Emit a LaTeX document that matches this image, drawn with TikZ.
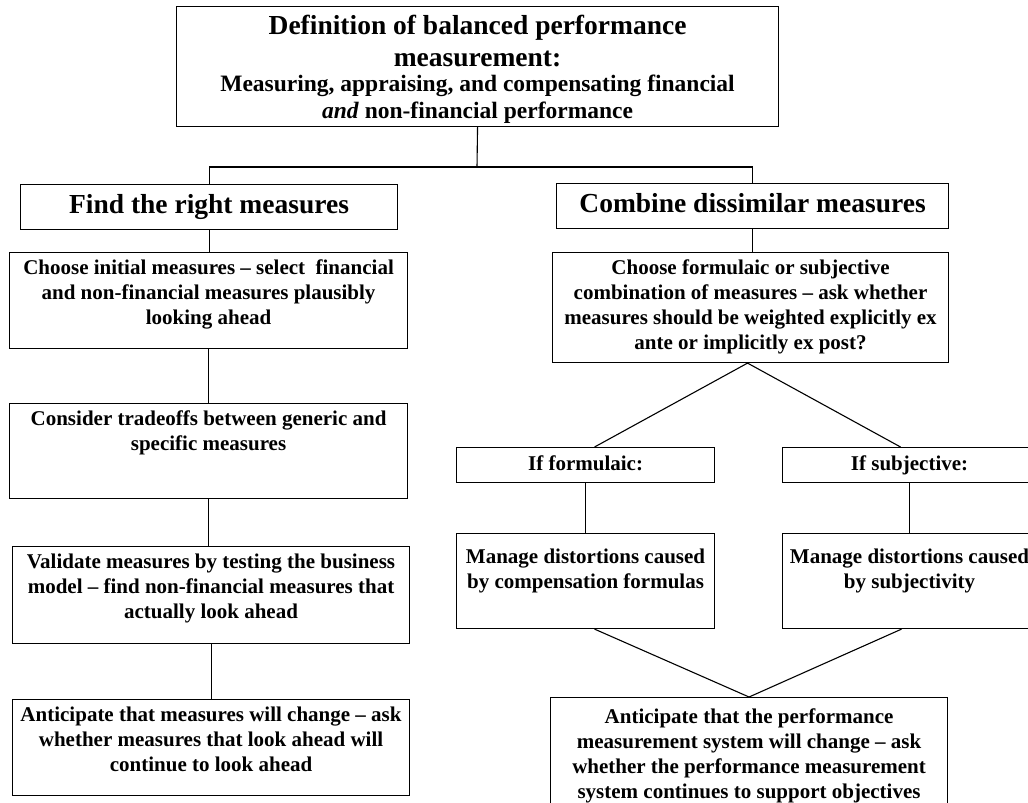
\documentclass[tikz,border=0pt]{standalone}
\usepackage{fontspec}
\setmainfont{Liberation Serif}
\begin{document}
\begin{tikzpicture}[x=1pt,y=-1pt,
  box/.style={draw, line width=1.1pt, inner sep=0pt, anchor=north west},
  body/.style={font=\fontsize{21}{25}\selectfont\bfseries, align=center, inner sep=0pt, anchor=north},
  head/.style={font=\fontsize{27.5}{32}\selectfont\bfseries, align=center},
  banner/.style={head, text height=19, text depth=6},
  subhead/.style={font=\fontsize{23.5}{27}\selectfont\bfseries, align=center, inner sep=0pt, anchor=north},
  single/.style={font=\fontsize{21}{25}\selectfont\bfseries, text height=14.5, text depth=4.5},
  link/.style={line width=1.1pt, line join=miter}]
\useasboundingbox (0,0) rectangle (1028,803);
\clip (0,0) rectangle (1028,803);

% definition box
\node[box, minimum width=602, minimum height=120] (def) at (176,6) {};
\node[head, inner sep=0pt, anchor=north] (deft) at ([yshift=-8.5]def.north)
  {Definition of balanced performance\\measurement:};
\node[subhead] (defs) at ([yshift=-69]def.north)
  {Measuring, appraising, and compensating financial\\\textit{and} non-financial performance};

% two main branches
\node[box, banner, minimum width=377, minimum height=45] (find) at (20,184) {Find the right measures};
\node[box, banner, minimum width=392, minimum height=45] (comb) at (556,183) {Combine dissimilar measures};

% left column
\node[box, minimum width=398, minimum height=96] (ci) at (9,252) {};
\node[body] (cit) at ([yshift=-7.5]ci.north)
  {Choose initial measures -- select~ financial\\and non-financial measures plausibly\\looking ahead};
\node[box, minimum width=398, minimum height=95] (cons) at (9,403) {};
\node[body] (const) at ([yshift=-7.5]cons.north)
  {Consider tradeoffs between generic and\\specific measures};
\node[box, minimum width=397, minimum height=97] (val) at (12,546) {};
\node[body] (valt) at ([yshift=-7.5]val.north)
  {Validate measures by testing the business\\model -- find non-financial measures that\\actually look ahead};
\node[box, minimum width=397, minimum height=96] (antl) at (12,699) {};
\node[body] (antlt) at ([yshift=-7.5]antl.north)
  {Anticipate that measures will change -- ask\\whether measures that look ahead will\\continue to look ahead};

% right column
\node[box, minimum width=396, minimum height=110] (cf) at (552,252) {};
\node[body] (cft) at ([yshift=-7.5]cf.north)
  {Choose formulaic or subjective\\combination of measures -- ask whether\\measures should be weighted explicitly ex\\ante or implicitly ex post?};
\node[box, single, minimum width=258, minimum height=35] (iff) at (456,447) {If formulaic:};
\node[box, single, minimum width=254, minimum height=35] (ifs) at (782,447) {If subjective:};
\node[box, minimum width=258, minimum height=95] (mf) at (456,533) {};
\node[body] (mft) at ([yshift=-15.5]mf.north)
  {Manage distortions caused\\by compensation formulas};
\node[box, minimum width=254, minimum height=95] (ms) at (782,533) {};
\node[body] (mst) at ([yshift=-15.5]ms.north)
  {Manage distortions caused\\by subjectivity};
\node[box, minimum width=397, minimum height=120] (antr) at (550,697) {};
\node[body] (antrt) at ([yshift=-11.5]antr.north)
  {Anticipate that the performance\\measurement system will change -- ask\\whether the performance measurement\\system continues to support objectives};

% connectors
\coordinate (fork) at (477,167);
\draw[link] (find.north) |- (fork) -| (comb.north);
\draw[link] (def.south) -- (fork);
\draw[link] (find.south) -- (find.south |- ci.north);
\draw[link] (ci.south) -- (ci.south |- cons.north);
\draw[link] (cons.south) -- (cons.south |- val.north);
\draw[link] (val.south) -- (val.south |- antl.north);
\draw[link] (comb.south) -- (comb.south |- cf.north);
\draw[link] ([xshift=9]iff.north) -- ([xshift=-3]cf.south) -- ([xshift=-9]ifs.north);
\draw[link] (iff.south) -- (mf.north);
\draw[link] (ifs.south) -- (ms.north);
\draw[link] ([xshift=9]mf.south) -- (antr.north) -- ([xshift=-8]ms.south);
\end{tikzpicture}
\end{document}
